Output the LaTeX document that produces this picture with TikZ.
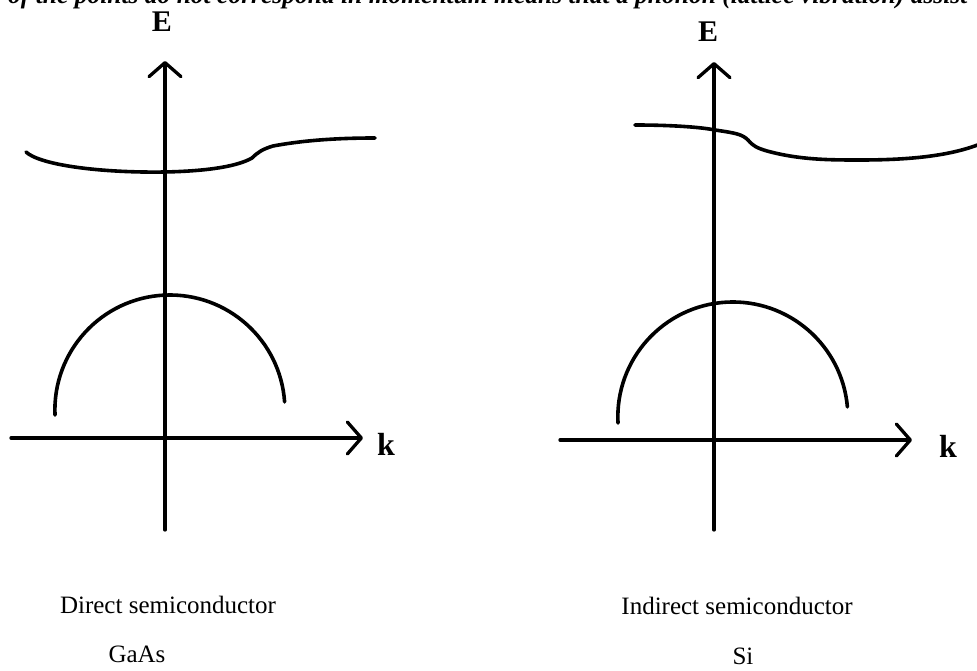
\documentclass[tikz,border=0pt]{standalone}
\usepackage{fontspec}
\setmainfont{Liberation Serif}
\usetikzlibrary{arrows.meta}
\begin{document}
\begin{tikzpicture}[x=1pt,y=-1pt,
  curve/.style={line width=3.6pt,line cap=round,line join=round},
  axis/.style={line width=3.3pt,line cap=round,
    -{Straight Barb[length=14pt,width=32pt,line width=3.3pt,round]}},
  lbl/.style={inner sep=0pt,font=\fontsize{30}{34}\selectfont\bfseries},
  klbl/.style={inner sep=0pt,font=\fontsize{32}{36}\selectfont\bfseries},
  captxt/.style={inner sep=0pt,font=\fontsize{25}{30}\selectfont}]
\useasboundingbox (0,0) rectangle (977,671);
\clip (0,0) rectangle (977,671);
% cut-off text line at the top
\node[anchor=base west,inner sep=0pt,font=\fontsize{25.5}{30}\selectfont\bfseries\itshape]
  (top) at (8,4) {of the points do not correspond in momentum means that a phonon (lattice vibration) assist};
% ---------- left diagram ----------
\coordinate (L0) at (165,530);
\coordinate (LE) at (165,61);
\coordinate (Lk0) at (11,438);
\coordinate (Lk) at (363,438);
\draw[axis] (L0) -- (LE);
\draw[axis] (Lk0) -- (Lk);
\node[lbl] (Elab) at (162,22) {E};
\node[klbl] (klab) at (386,444) {k};
\coordinate (LV) at (55,415);
\draw[curve] (LV) arc[start angle=182.5,end angle=4,radius=115pt];
\coordinate (LC0) at (26,152);
\draw[curve] (LC0) .. controls (40,165) and (100,173) .. (165,172)
  .. controls (210,171) and (238,166) .. (252,158)
  .. controls (258,152) and (263,149) .. (273,146)
  .. controls (305,140) and (340,138) .. (375,138);
\node[captxt] (c1) at (168,605) {Direct semiconductor};
\node[captxt] (c2) at (137,654) {GaAs};
% ---------- right diagram ----------
\coordinate (R0) at (714,530);
\coordinate (RE) at (714,62);
\coordinate (Rk0) at (560,440);
\coordinate (Rk) at (912,440);
\draw[axis] (R0) -- (RE);
\draw[axis] (Rk0) -- (Rk);
\node[lbl] (Elab2) at (708,32) {E};
\node[klbl] (klab2) at (948,446) {k};
\coordinate (RV) at (618,423);
\draw[curve] (RV) arc[start angle=183,end angle=5,radius=115pt];
\coordinate (RC0) at (635,125);
\draw[curve] (RC0) .. controls (670,125) and (700,127) .. (715,130)
  .. controls (735,133) and (742,134) .. (748,140)
  .. controls (753,146) and (757,148) .. (767,151)
  .. controls (800,160) and (830,160) .. (860,160)
  .. controls (915,160) and (955,155) .. (985,142);
\node[captxt] (c3) at (737,606) {Indirect semiconductor};
\node[captxt] (c4) at (743,656) {Si};
\end{tikzpicture}
\end{document}
